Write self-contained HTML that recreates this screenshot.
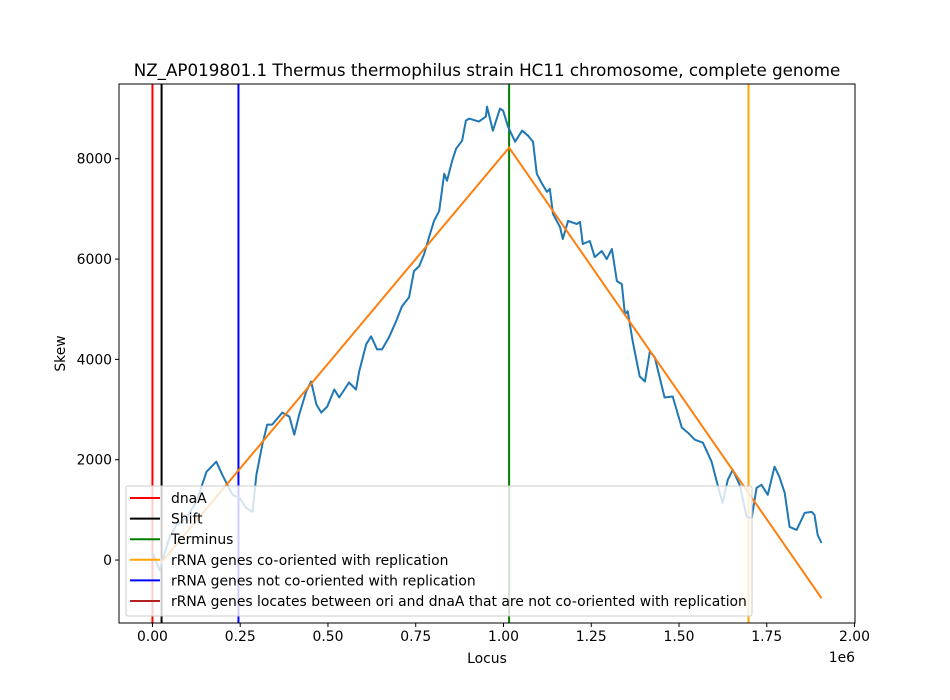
<!DOCTYPE html>
<html><head><meta charset="utf-8"><style>
body{margin:0;background:#fff;}
svg{display:block;font-family:"DejaVu Sans","Liberation Sans",sans-serif;}
</style></head><body>
<svg id="chart" width="950" height="700" viewBox="0 0 950 700">
<rect width="950" height="700" fill="#fff"/>
<g id="plot"></g>
</svg>
<script>
const locusK=[0,20,48,68,97,125,154,182,199,228,248,267,285,296,313,327,341,370,390,404,418,438,452,467,481,498,518,532,560,580,589,609,623,640,654,674,694,711,731,745,760,774,788,802,817,831,839,854,865,882,893,902,930,950,953,970,990,999,1013,1033,1053,1070,1084,1095,1110,1124,1132,1141,1161,1169,1184,1209,1218,1226,1246,1260,1280,1294,1309,1323,1337,1346,1354,1368,1388,1403,1417,1431,1445,1459,1482,1508,1525,1545,1568,1593,1610,1624,1639,1653,1673,1693,1707,1721,1735,1753,1772,1786,1801,1815,1835,1858,1878,1886,1895,1906];
const skewVals=[160,-200,440,700,840,1160,1760,1960,1700,1300,1240,1040,960,1700,2300,2700,2700,2940,2860,2500,2900,3360,3560,3100,2940,3060,3400,3240,3540,3400,3760,4300,4460,4200,4200,4440,4760,5060,5240,5760,5860,6100,6440,6760,6960,7700,7560,7960,8200,8360,8760,8800,8740,8840,9040,8560,9000,8960,8640,8340,8560,8460,8340,7700,7500,7340,7400,6900,6640,6400,6760,6700,6740,6300,6360,6040,6160,6000,6200,5560,5500,4900,4960,4360,3660,3560,4160,4040,3640,3240,3260,2640,2540,2400,2340,1960,1500,1140,1600,1800,1500,860,840,1440,1500,1300,1860,1660,1340,660,600,940,960,900,500,340];
const fitLocusK=[25,1016,1906];
const fitSkew=[-50,8220,-760];
const vLines=[{k:0,c:"#ff0000",n:"dnaA-line"},{k:26,c:"#000000",n:"shift-line"},{k:245,c:"#0000ff",n:"rrna-not-cooriented-line"},{k:1016,c:"#008000",n:"terminus-line"},{k:1698,c:"#ffa500",n:"rrna-cooriented-line"}];
const xTicks=[0,0.25,0.5,0.75,1.0,1.25,1.5,1.75,2.0];
const xTickLabels=["0.00","0.25","0.50","0.75","1.00","1.25","1.50","1.75","2.00"];
const yTicks=[0,2000,4000,6000,8000];
const legendLabels=["dnaA","Shift","Terminus","rRNA genes co-oriented with replication","rRNA genes not co-oriented with replication","rRNA genes locates between ori and dnaA that are not co-oriented with replication"];
const legendColors=["#ff0000","#000000","#008000","#ffa500","#0000ff","#b22222"];

const L=119,R=855,T=84,B=623;
const xMin=-0.0953,xMax=2.0014,yMin=-1255,yMax=9490;
const X=v=>L+(v-xMin)/(xMax-xMin)*(R-L);
const Y=v=>B-(v-yMin)/(yMax-yMin)*(B-T);
const NS="http://www.w3.org/2000/svg";
const g=document.getElementById('plot');
function el(t,a,p){const e=document.createElementNS(NS,t);for(const k in a)e.setAttribute(k,a[k]);(p||g).appendChild(e);return e;}

const clip=el('clipPath',{id:'clipA'});el('rect',{x:L,y:T,width:R-L,height:B-T},clip);
const pg=el('g',{'clip-path':'url(#clipA)'});



vLines.forEach(v=>{
 const l=el('line',{x1:X(v.k/1000),x2:X(v.k/1000),y1:T,y2:B,stroke:v.c,'stroke-width':2},pg);
 
 
});
const sk=el('polyline',{points:locusK.map((k,i)=>X(k/1000).toFixed(1)+','+Y(skewVals[i]).toFixed(1)).join(' '),fill:'none',stroke:'#1f77b4','stroke-width':2,'stroke-linejoin':'round'},pg);


const fit=el('polyline',{points:fitLocusK.map((k,i)=>X(k/1000).toFixed(1)+','+Y(fitSkew[i]).toFixed(1)).join(' '),fill:'none',stroke:'#ff7f0e','stroke-width':2},pg);



const fr=el('rect',{x:L,y:T,width:R-L,height:B-T,fill:'none',stroke:'#000','stroke-width':1});



xTicks.forEach((t,i)=>{
 const x=X(t);
 el('line',{x1:x,x2:x,y1:B,y2:B+4,stroke:'#000'});
 const tx=el('text',{x:x,y:B+18,'font-size':13.9,'text-anchor':'middle',fill:'#000'});tx.textContent=xTickLabels[i];
 
 
});
yTicks.forEach(t=>{
 const y=Y(t);
 el('line',{x1:L-4,x2:L,y1:y,y2:y,stroke:'#000'});
 const tx=el('text',{x:L-7,y:y+5,'font-size':13.9,'text-anchor':'end',fill:'#000'});tx.textContent=String(t);
 
 
});

function txt(s,a,n){const t=el('text',a);t.textContent=s;return t;}
txt('NZ_AP019801.1 Thermus thermophilus strain HC11 chromosome, complete genome',{x:(L+R)/2,y:76,'font-size':16.7,'text-anchor':'middle'},'chart-title');
txt('Locus',{x:(L+R)/2,y:663,'font-size':13.9,'text-anchor':'middle'},'x-axis-title');
txt('1e6',{x:R,y:662,'font-size':13.9,'text-anchor':'end'},'x-axis-offset');
txt('Skew',{x:65,y:(T+B)/2,'font-size':13.9,'text-anchor':'middle',transform:'rotate(-90 65 '+((T+B)/2)+')'},'y-axis-title');

const lg=el('g',{});


el('rect',{x:126,y:486,width:626,height:130,rx:2,fill:'#fff','fill-opacity':0.8,stroke:'#ccc','stroke-width':1},lg);
legendLabels.forEach((s,i)=>{
 const y=498+i*20.6;
 const e=el('g',{},lg);
 
 
 el('line',{x1:130,x2:160,y1:y,y2:y,stroke:legendColors[i],'stroke-width':2},e);
 const t=el('text',{x:171,y:y+5,'font-size':13.9},e);t.textContent=s;
});
</script>
</body></html>
